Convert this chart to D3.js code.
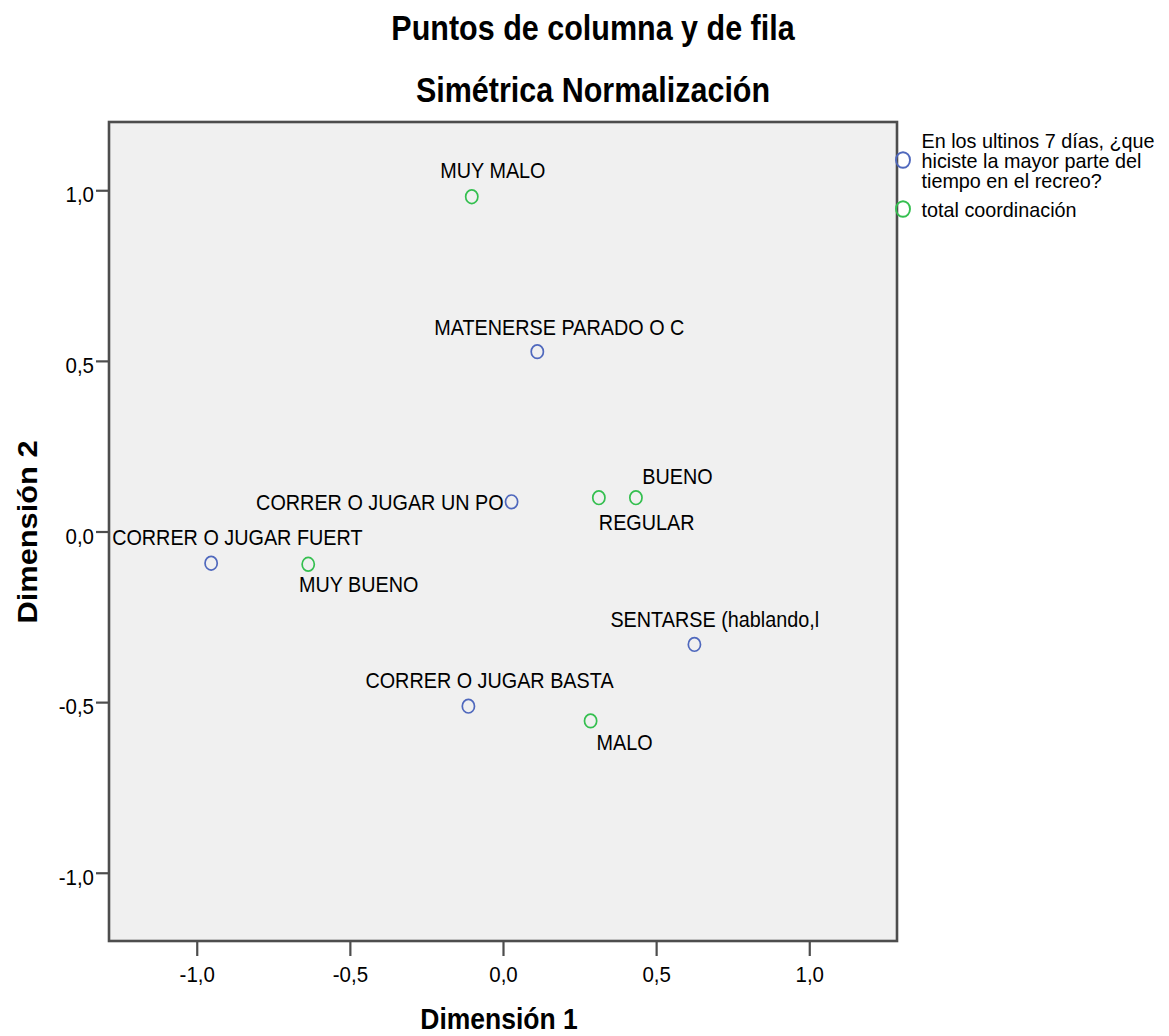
<!DOCTYPE html>
<html>
<head>
<meta charset="utf-8">
<script src="https://cdn.jsdelivr.net/npm/d3@7"></script>
<style>
  html, body { margin: 0; padding: 0; background: #ffffff; }
  svg { display: block; font-family: "Liberation Sans", Arial, sans-serif; }
</style>
</head>
<body>
<svg id="chart" width="1169" height="1036"></svg>
<script>
// ---- data ----
const titleLines = ["Puntos de columna y de fila", "Simétrica Normalización"];
const xTitle = "Dimensión 1";
const yTitle = "Dimensión 2";

// Row points (blue): activity during recess
const rowLabels = ["CORRER O JUGAR FUERT", "CORRER O JUGAR BASTA", "CORRER O JUGAR UN PO", "MATENERSE PARADO O C", "SENTARSE (hablando,l"];
const rowDim1 = [-0.953, -0.113, 0.028, 0.112, 0.625];
const rowDim2 = [-0.093, -0.512, 0.087, 0.527, -0.331];

// Column points (green): total coordinación
const colLabels = ["MUY BUENO", "BUENO", "REGULAR", "MALO", "MUY MALO"];
const colDim1 = [-0.636, 0.434, 0.313, 0.286, -0.102];
const colDim2 = [-0.096, 0.099, 0.099, -0.555, 0.981];

const xTicks = [-1.0, -0.5, 0.0, 0.5, 1.0];
const yTicks = [-1.0, -0.5, 0.0, 0.5, 1.0];

const legendRowText = ["En los ultinos 7 días, ¿que", "hiciste la mayor parte del", "tiempo en el recreo?"];
const legendColText = ["total coordinación"];

// ---- layout / style ----
const SY = 1.12; // vertical stretch of glyphs
const frame = { left: 109, right: 897, top: 122, bottom: 941 };
const blue = "#4f68bd";
const green = "#34bf4f";
const frameColor = "#4d4d4d";

// label placement relative to each marker (pixels)
const labelPlacement = {
  "CORRER O JUGAR FUERT": { dx: -99, dy: -18.5, anchor: "start" },
  "CORRER O JUGAR BASTA": { dx: -103, dy: -18.5, anchor: "start" },
  "CORRER O JUGAR UN PO": { dx: -8, dy: 8.3, anchor: "end" },
  "MATENERSE PARADO O C": { dx: -103, dy: -16.7, anchor: "start" },
  "SENTARSE (hablando,l": { dx: -84, dy: -17.6, anchor: "start" },
  "MUY BUENO": { dx: -9.3, dy: 27.4, anchor: "start" },
  "BUENO": { dx: 6.3, dy: -13.4, anchor: "start" },
  "REGULAR": { dx: 0, dy: 32.3, anchor: "start" },
  "MALO": { dx: 6, dy: 29.3, anchor: "start" },
  "MUY MALO": { dx: -31.5, dy: -18.4, anchor: "start" }
};

const svg = d3.select("#chart");
const fmt = v => d3.format(".1f")(v).replace(".", ",").replace("−", "-");

const x = d3.scaleLinear().domain([-1.2865, 1.2865]).range([frame.left, frame.right]);
const y = d3.scaleLinear().domain([-1.2, 1.2]).range([frame.bottom, frame.top]);

// titles
titleLines.forEach((t, i) => {
  svg.append("text")
    .attr("transform", `translate(593,${[40, 102][i]}) scale(1,${SY})`)
    .attr("text-anchor", "middle")
    .attr("font-weight", "bold")
    .attr("font-size", "30.5px")
    .attr("fill", "#000")
    .text(t);
});

// plot background
svg.append("rect")
  .attr("x", frame.left).attr("y", frame.top)
  .attr("width", frame.right - frame.left)
  .attr("height", frame.bottom - frame.top)
  .attr("fill", "#f0f0f0");

// axes
const xAxis = svg.append("g")
  .attr("transform", `translate(0,${frame.bottom})`)
  .call(d3.axisBottom(x).tickValues(xTicks).tickFormat(fmt).tickSize(15).tickSizeOuter(0));
xAxis.select(".domain").remove();
xAxis.selectAll(".tick line").attr("stroke", frameColor).attr("stroke-width", 2.2);
xAxis.selectAll(".tick text")
  .attr("y", 0).attr("dy", 0)
  .attr("transform", `translate(0,41) scale(1,${SY})`)
  .attr("font-family", "Liberation Sans, Arial, sans-serif")
  .attr("font-size", "20.5px").attr("fill", "#000");

const yAxis = svg.append("g")
  .attr("transform", `translate(${frame.left},0)`)
  .call(d3.axisLeft(y).tickValues(yTicks).tickFormat(fmt).tickSize(13).tickSizeOuter(0));
yAxis.select(".domain").remove();
yAxis.selectAll(".tick line").attr("stroke", frameColor).attr("stroke-width", 2.2);
yAxis.selectAll(".tick text")
  .attr("x", 0).attr("dy", 0)
  .attr("transform", `translate(-15,11.5) scale(1,${SY})`)
  .attr("text-anchor", "end")
  .attr("font-family", "Liberation Sans, Arial, sans-serif")
  .attr("font-size", "20.5px").attr("fill", "#000");

// frame
svg.append("rect")
  .attr("x", frame.left).attr("y", frame.top)
  .attr("width", frame.right - frame.left)
  .attr("height", frame.bottom - frame.top)
  .attr("fill", "none")
  .attr("stroke", frameColor)
  .attr("stroke-width", 2.6);

// axis titles
svg.append("text")
  .attr("transform", `translate(499,1029) scale(1,${SY})`)
  .attr("text-anchor", "middle")
  .attr("font-weight", "bold")
  .attr("font-size", "26.5px")
  .text(xTitle);

svg.append("text")
  .attr("transform", `translate(36.5,532) scale(1,${SY}) rotate(-90)`)
  .attr("text-anchor", "middle")
  .attr("font-weight", "bold")
  .attr("font-size", "27.5px")
  .text(yTitle);

// points
const rows = rowLabels.map((l, i) => ({ label: l, d1: rowDim1[i], d2: rowDim2[i], color: blue }));
const cols = colLabels.map((l, i) => ({ label: l, d1: colDim1[i], d2: colDim2[i], color: green }));
const all = rows.concat(cols);

const pts = svg.append("g");
pts.selectAll("ellipse")
  .data(all)
  .join("ellipse")
  .attr("cx", d => x(d.d1))
  .attr("cy", d => y(d.d2))
  .attr("rx", 6.1)
  .attr("ry", 6.8)
  .attr("fill", "none")
  .attr("stroke", d => d.color)
  .attr("stroke-width", 1.7);

pts.selectAll("text")
  .data(all)
  .join("text")
  .attr("transform", d => {
    const p = labelPlacement[d.label];
    return `translate(${x(d.d1) + p.dx},${y(d.d2) + p.dy}) scale(1,${SY})`;
  })
  .attr("text-anchor", d => labelPlacement[d.label].anchor)
  .attr("font-size", "19.8px")
  .attr("fill", "#000")
  .text(d => d.label);

// legend (tightly stacked lines, as in the reference)
const lg = svg.append("g");
lg.append("ellipse")
  .attr("cx", 903).attr("cy", 160).attr("rx", 7).attr("ry", 7.8)
  .attr("fill", "none").attr("stroke", blue).attr("stroke-width", 1.9);
legendRowText.forEach((t, i) => {
  lg.append("text")
    .attr("x", 921.5)
    .attr("y", 147.5 + i * 20)
    .attr("font-size", "19.8px")
    .text(t);
});
lg.append("ellipse")
  .attr("cx", 903).attr("cy", 209).attr("rx", 7).attr("ry", 7.8)
  .attr("fill", "none").attr("stroke", green).attr("stroke-width", 1.9);
legendColText.forEach((t, i) => {
  lg.append("text")
    .attr("x", 921.5)
    .attr("y", 217 + i * 20)
    .attr("font-size", "19.8px")
    .text(t);
});
</script>
</body>
</html>
